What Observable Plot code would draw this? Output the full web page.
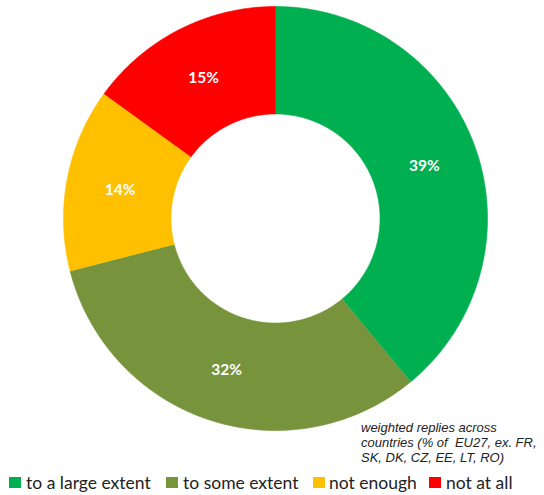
<!DOCTYPE html>
<html><head><meta charset="utf-8">
<script src="https://cdn.jsdelivr.net/npm/d3@7"></script>
<script src="https://cdn.jsdelivr.net/npm/@observablehq/plot@0.6"></script>
<style>
body{margin:0;background:#fff;}
#wrap{position:relative;width:544px;height:495px;overflow:hidden;}
#wrap svg{position:absolute;left:0;top:0;}
.foot{position:absolute;left:361px;top:420px;font-family:"Liberation Sans",Arial,sans-serif;font-style:italic;font-size:13px;line-height:15px;color:#222;white-space:pre;}
.li{position:absolute;top:473px;font-family:Lato,"Open Sans",sans-serif;font-size:17.5px;color:#222;line-height:20px;white-space:nowrap;}
.sw{position:absolute;top:477px;width:12px;height:11px;}
</style></head><body><div id="wrap"></div>
<script>
const categories = ["to a large extent","to some extent","not enough","not at all"];
const values = [39, 32, 14, 15];
const colors = ["#00B050","#77933C","#FFC000","#FF0000"];
const labels = values.map(v => v + "%");
const footnote = "weighted replies across\ncountries (% of  EU27, ex. FR,\nSK, DK, CZ, EE, LT, RO)";
const legendSwatchX = [9, 166, 313, 429];
const legendTextX = [26, 183, 329, 446];

const inner = 0.493;
const arcs = d3.pie().sort(null).value(d => d)(values);
const pts = [];
const labelPts = [];
arcs.forEach((p, i) => {
  const n = Math.max(12, Math.ceil((p.endAngle - p.startAngle) * 80));
  for (let k = 0; k <= n; k++) {
    const a = p.startAngle + (p.endAngle - p.startAngle) * k / n;
    pts.push({cat: categories[i], x: Math.sin(a), y: Math.cos(a)});
  }
  for (let k = n; k >= 0; k--) {
    const a = p.startAngle + (p.endAngle - p.startAngle) * k / n;
    pts.push({cat: categories[i], x: inner * Math.sin(a), y: inner * Math.cos(a)});
  }
  const m = (p.startAngle + p.endAngle) / 2, r = (1 + inner) / 2;
  labelPts.push({x: r * Math.sin(m), y: r * Math.cos(m), label: labels[i]});
});

const chart = Plot.plot({
  width: 544, height: 470, margin: 0,
  style: {background: "white"},
  x: {domain: [-1, 1], range: [63, 487], axis: null},
  y: {domain: [-1, 1], range: [430, 6], axis: null},
  color: {domain: categories, range: colors},
  marks: [
    Plot.line(pts, {x: "x", y: "y", z: "cat", fill: "cat", stroke: "cat", strokeWidth: 0.6, curve: "linear"}),
    Plot.text(labelPts, {x: "x", y: "y", text: "label", fill: "white", fontWeight: "bold", fontSize: 15.5, fontFamily: "Lato, sans-serif", dy: 1})
  ]
});
const wrap = document.getElementById("wrap");
wrap.appendChild(chart);

const f = document.createElement("div");
f.className = "foot"; f.textContent = footnote; wrap.appendChild(f);

categories.forEach((c, i) => {
  const s = document.createElement("div");
  s.className = "sw"; s.style.left = legendSwatchX[i] + "px"; s.style.background = colors[i];
  wrap.appendChild(s);
  const t = document.createElement("div");
  t.className = "li"; t.style.left = legendTextX[i] + "px"; t.textContent = c;
  wrap.appendChild(t);
});
</script></body></html>
